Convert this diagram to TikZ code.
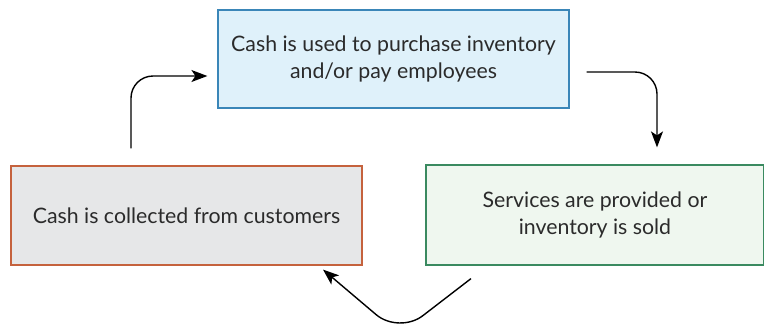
\documentclass[tikz,border=0pt]{standalone}
\usepackage{fontspec}
\setmainfont{Lato}
\usepackage{tikz}
\usetikzlibrary{arrows.meta}
\definecolor{bluefill}{HTML}{DFF1FA}
\definecolor{blueline}{HTML}{3A86B8}
\definecolor{grayfill}{HTML}{E6E7E8}
\definecolor{redline}{HTML}{C5623D}
\definecolor{greenfill}{HTML}{EFF7EF}
\definecolor{greenline}{HTML}{3A8A60}
\definecolor{txt}{HTML}{2B2B2B}

\begin{document}
\begin{tikzpicture}[x=1pt,y=-1pt,
    box/.style={draw, line width=1.2pt, align=center, text=txt,
      font=\fontsize{21.3}{27.5}\selectfont, inner sep=0pt},
    flow/.style={line width=1.4pt, -{Stealth[length=16pt,width=12pt,inset=4pt]}}]
  \useasboundingbox (0,0) rectangle (764,325);
  \node[box, fill=bluefill, draw=blueline, minimum width=351pt, minimum height=98pt]
    (use) at (393.5,59) {Cash is used to purchase inventory\\and/or pay employees};
  \node[box, fill=greenfill, draw=greenline, minimum width=338pt, minimum height=100pt]
    (sell) at (595,215) {Services are provided or\\inventory is sold};
  \node[box, fill=grayfill, draw=redline, minimum width=351pt, minimum height=99pt]
    (collect) at (186.5,215.5) {Cash is collected from customers};
  \coordinate (c1) at ([xshift=-55.5pt,yshift=17pt]collect.north);
  \coordinate (c2) at ([xshift=-10pt,yshift=-17pt]use.west);
  \coordinate (u1) at ([xshift=17pt,yshift=-13pt]use.east);
  \coordinate (u2) at ([xshift=62pt,yshift=17pt]sell.north);
  \coordinate (s1) at ([xshift=-124pt,yshift=-13pt]sell.south);
  \coordinate (s2) at ([xshift=136.5pt,yshift=-4pt]collect.south);
  \draw[flow, rounded corners=22pt] (c1) |- (c2);
  \draw[flow, rounded corners=22pt] (u1) -| (u2);
  \draw[flow, rounded corners=30pt] (s1) -- (399,334) -- (s2);
\end{tikzpicture}
\end{document}
